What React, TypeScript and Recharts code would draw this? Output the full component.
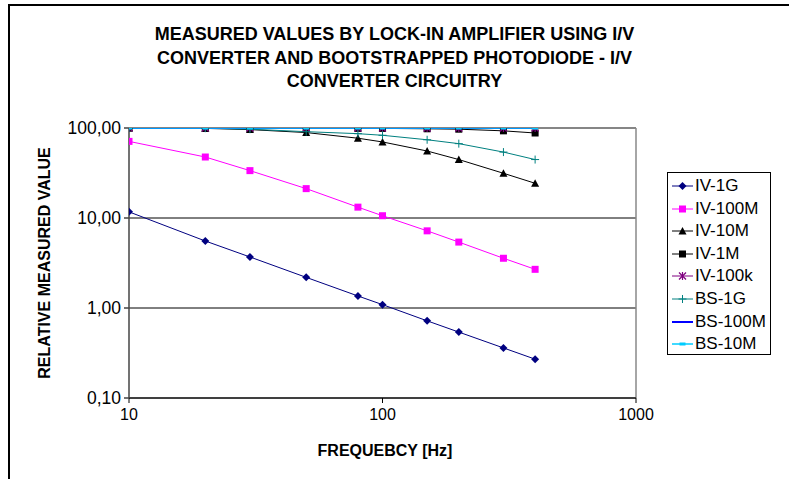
import { LineChart, Line, XAxis, YAxis, CartesianGrid, ReferenceLine } from 'recharts';

// frequencies in Hz
const freqs = [10, 20, 30, 50, 80, 100, 150, 200, 300, 400];

// relative measured values per circuit
const iv1G = [11.7, 5.55, 3.69, 2.19, 1.36, 1.09, 0.72, 0.54, 0.36, 0.27];
const iv100M = [71, 47.6, 33.6, 21.2, 13.2, 10.6, 7.2, 5.4, 3.57, 2.69];
const iv10M = [100, 99, 96, 89, 77, 70, 55.5, 44.6, 31.4, 24.3];
const iv1M = [100, 100, 99.5, 99, 99, 99, 98, 97, 93, 88];
const iv100k = [100, 100, 100, 100, 100, 100, 100, 100, 100, 100];
const bs1G = [100, 99.5, 97, 91, 86.5, 83, 74, 67, 54, 44.6];
const bs100M = [100, 100, 100, 100, 100, 100, 100, 100, 100, 100];
const bs10M = [100, 100, 100, 100, 100, 100, 100, 100, 100, 100];

const xTicks = [10, 100, 1000];
const yTicks = [0.1, 1, 10, 100];

const titleLines = [
  'MEASURED VALUES BY LOCK-IN AMPLIFIER USING I/V',
  'CONVERTER AND BOOTSTRAPPED PHOTODIODE - I/V',
  'CONVERTER CIRCUITRY',
];

type Shape = 'diamond' | 'square' | 'triangle' | 'star' | 'plus' | 'dash' | 'smallsq';

const series: { key: string; name: string; line: string; marker: string; shape: Shape; width: number }[] = [
  { key: 'iv1G', name: 'IV-1G', line: '#000080', marker: '#000080', shape: 'diamond', width: 1 },
  { key: 'iv100M', name: 'IV-100M', line: '#FF00FF', marker: '#FF00FF', shape: 'square', width: 1 },
  { key: 'iv10M', name: 'IV-10M', line: '#000000', marker: '#000000', shape: 'triangle', width: 1 },
  { key: 'iv1M', name: 'IV-1M', line: '#000000', marker: '#000000', shape: 'square', width: 1 },
  { key: 'iv100k', name: 'IV-100k', line: '#800080', marker: '#800080', shape: 'star', width: 1 },
  { key: 'bs1G', name: 'BS-1G', line: '#008080', marker: '#008080', shape: 'plus', width: 1 },
  { key: 'bs100M', name: 'BS-100M', line: '#0000FF', marker: '#0000FF', shape: 'dash', width: 2 },
  { key: 'bs10M', name: 'BS-10M', line: '#00CCFF', marker: '#00CCFF', shape: 'smallsq', width: 1.5 },
];

const values: Record<string, number[]> = { iv1G, iv100M, iv10M, iv1M, iv100k, bs1G, bs100M, bs10M };

const data = freqs.map((f, i) => {
  const row: Record<string, number> = { f };
  Object.keys(values).forEach((k) => (row[k] = values[k][i]));
  return row;
});

const drawMarker = (shape: Shape, color: string, cx: number, cy: number, key?: string | number) => {
  switch (shape) {
    case 'diamond':
      return (
        <polygon key={key} points={`${cx},${cy - 4} ${cx + 4},${cy} ${cx},${cy + 4} ${cx - 4},${cy}`} fill={color} />
      );
    case 'square':
      return <rect key={key} x={cx - 3.5} y={cy - 3.5} width={7} height={7} fill={color} />;
    case 'triangle':
      return <polygon key={key} points={`${cx},${cy - 4} ${cx + 4},${cy + 3.5} ${cx - 4},${cy + 3.5}`} fill={color} />;
    case 'star':
      return (
        <g key={key} stroke={color} strokeWidth={1.2}>
          <line x1={cx - 3.5} y1={cy - 3.5} x2={cx + 3.5} y2={cy + 3.5} />
          <line x1={cx - 3.5} y1={cy + 3.5} x2={cx + 3.5} y2={cy - 3.5} />
          <line x1={cx} y1={cy - 4} x2={cx} y2={cy + 4} />
        </g>
      );
    case 'plus':
      return (
        <g key={key} stroke={color} strokeWidth={1}>
          <line x1={cx - 4} y1={cy} x2={cx + 4} y2={cy} />
          <line x1={cx} y1={cy - 4} x2={cx} y2={cy + 4} />
        </g>
      );
    case 'dash':
      return <rect key={key} x={cx - 2.5} y={cy - 1} width={5} height={2} fill={color} />;
    default:
      return <rect key={key} x={cx - 3} y={cy - 1.5} width={6} height={3} fill={color} />;
  }
};

const dotFor = (shape: Shape, color: string) => (p: any) =>
  drawMarker(shape, color, p.cx, p.cy, `${shape}-${p.index}`);

const fmtY = (v: number) => v.toFixed(2).replace('.', ',');

const font = '"Liberation Sans", Arial, sans-serif';

const Legend = () => (
  <div
    style={{
      position: 'absolute',
      left: 667,
      top: 172,
      width: 102,
      height: 181,
      border: '1px solid #000',
      background: '#fff',
      fontFamily: font,
      fontSize: 17,
    }}
  >
    {series.map((s, i) => (
      <div
        key={s.key}
        style={{ position: 'absolute', left: 3, top: 3 + i * 22.6, height: 20, display: 'flex', alignItems: 'center' }}
      >
        <svg width={23} height={20}>
          <line x1={1} y1={10} x2={22} y2={10} stroke={s.line} strokeWidth={s.width} />
          {drawMarker(s.shape, s.marker, 11.5, 10)}
        </svg>
        <span style={{ marginLeft: 1 }}>{s.name}</span>
      </div>
    ))}
  </div>
);

export default function App() {
  return (
    <div style={{ position: 'absolute', left: 0, top: 0, width: 789, height: 479, background: '#fff', overflow: 'hidden' }}>
      <div
        style={{
          position: 'absolute',
          left: 8,
          top: 4,
          width: 800,
          height: 500,
          borderLeft: '2px solid #000',
          borderTop: '2px solid #000',
        }}
      />
      <div
        style={{
          position: 'absolute',
          left: 0,
          width: 789,
          top: 23,
          fontFamily: font,
          fontWeight: 'bold',
          fontSize: 18,
          lineHeight: '23.5px',
          textAlign: 'center',
        }}
      >
        {titleLines.map((t) => (
          <div key={t}>{t}</div>
        ))}
      </div>
      <div style={{ position: 'absolute', left: 0, top: 0 }}>
        <LineChart width={789} height={479} data={data} margin={{ top: 128, right: 153, bottom: 41, left: 59 }}>
          <CartesianGrid vertical={false} stroke="#000" />
          <ReferenceLine x={1000} stroke="#888" strokeWidth={1.5} />
          <ReferenceLine y={100} stroke="#888" strokeWidth={1.5} />
          <XAxis
            dataKey="f"
            type="number"
            scale="log"
            domain={[10, 1000]}
            ticks={xTicks}
            allowDataOverflow
            height={40}
            stroke="#000"
            tickSize={5}
            tickMargin={6}
            tick={{ fill: '#000', fontSize: 16, fontFamily: font }}
          />
          <YAxis
            type="number"
            scale="log"
            domain={[0.1, 100]}
            ticks={yTicks}
            allowDataOverflow
            width={70}
            stroke="#444"
            strokeWidth={1.5}
            tickSize={5}
            tickMargin={3}
            tickFormatter={fmtY}
            tick={{ fill: '#000', fontSize: 17.5, fontFamily: font }}
          />
          {series.map((s) => (
            <Line
              key={s.key}
              dataKey={s.key}
              name={s.name}
              stroke={s.line}
              strokeWidth={s.width}
              dot={dotFor(s.shape, s.marker)}
              activeDot={false}
              isAnimationActive={false}
            />
          ))}
        </LineChart>
      </div>
      <div
        style={{
          position: 'absolute',
          left: 45,
          top: 263,
          transform: 'translate(-50%, -50%) rotate(-90deg)',
          whiteSpace: 'nowrap',
          fontFamily: font,
          fontWeight: 'bold',
          fontSize: 16,
        }}
      >
        RELATIVE MEASURED VALUE
      </div>
      <div
        style={{
          position: 'absolute',
          left: 385,
          top: 451,
          transform: 'translate(-50%, -50%)',
          whiteSpace: 'nowrap',
          fontFamily: font,
          fontWeight: 'bold',
          fontSize: 16,
        }}
      >
        FREQUEBCY [Hz]
      </div>
      <Legend />
    </div>
  );
}
